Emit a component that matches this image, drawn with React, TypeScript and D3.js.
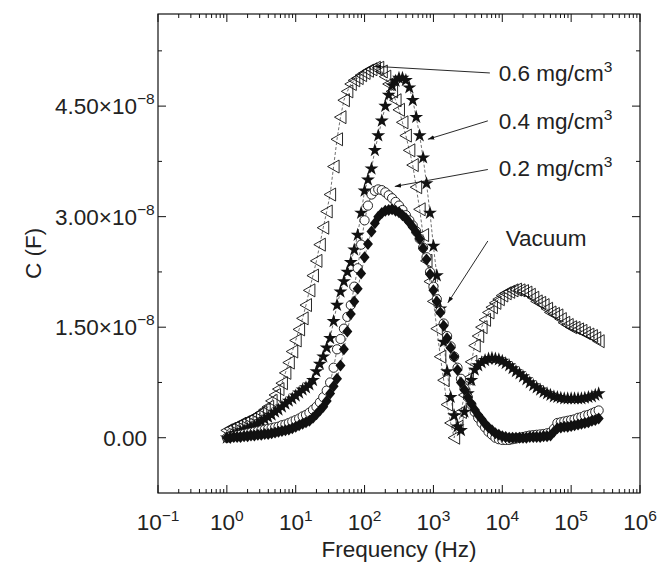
import React from "react";
import * as d3 from "d3";

// sweep frequencies (Hz), shared by all four runs
const FREQ = [
  1, 1.12, 1.26, 1.41, 1.58, 1.78, 2.0, 2.24, 2.51, 2.82, 3.16, 3.55, 3.98, 4.47, 5.01, 5.62, 6.31, 7.08, 7.94, 8.91,
  10, 11.2, 12.6, 14.1, 15.8, 17.8, 20, 22.4, 25.1, 28.2, 31.6, 35.5, 39.8, 44.7, 50.1, 56.2, 63.1, 70.8, 79.4, 89.1,
  100, 112, 126, 141, 158, 178, 200, 224, 251, 282, 316, 355, 398, 447, 501, 562, 631, 708, 794, 891,
  1000, 1120, 1260, 1410, 1580, 1780, 2000, 2240, 2510, 2820, 3160, 3550, 3980, 4470, 5010, 5620, 6310, 7080, 7940, 8910,
  10000, 11200, 12600, 14100, 15800, 17800, 20000, 22400, 25100, 28200, 31600, 35500, 39800, 44700, 50100, 56200, 63100, 70800, 79400, 89100,
  100000, 112000, 126000, 141000, 158000, 178000, 200000, 224000, 251000,
];

// capacitance, in units of 1e-8 F
const C_06 = [
  0.1, 0.12, 0.14, 0.16, 0.19, 0.21, 0.23, 0.25, 0.28, 0.31,
  0.34, 0.38, 0.42, 0.5, 0.58, 0.66, 0.74, 0.88, 1.02, 1.17,
  1.32, 1.47, 1.62, 1.8, 2.0, 2.2, 2.4, 2.62, 2.85, 3.07,
  3.3, 3.68, 4.05, 4.35, 4.58, 4.7, 4.8, 4.85, 4.88, 4.92,
  4.95, 4.98, 5.0, 5.02, 5.02, 4.97, 4.9, 4.8, 4.7, 4.58,
  4.45, 4.28, 4.1, 3.9, 3.7, 3.4, 3.1, 2.75, 2.4, 2.12,
  1.85, 1.48, 1.1, 0.78, 0.45, 0.2, 0.0, 0.15, 0.35, 0.58,
  0.8, 1.03, 1.25, 1.38, 1.5, 1.6, 1.7, 1.77, 1.83, 1.88,
  1.93, 1.96, 1.98, 2.0, 2.01, 2.0, 1.99, 1.97, 1.94, 1.9,
  1.85, 1.83, 1.8, 1.75, 1.7, 1.68, 1.66, 1.61, 1.56, 1.53,
  1.5, 1.49, 1.47, 1.45, 1.42, 1.4, 1.38, 1.35, 1.31,
];
const C_04 = [
  0.0, 0.02, 0.04, 0.06, 0.08, 0.1, 0.12, 0.14, 0.16, 0.19,
  0.22, 0.25, 0.28, 0.31, 0.35, 0.38, 0.42, 0.46, 0.5, 0.53,
  0.57, 0.61, 0.65, 0.68, 0.72, 0.78, 0.9, 1.0, 1.1, 1.22,
  1.35, 1.58, 1.8, 1.98, 2.12, 2.25, 2.38, 2.55, 2.75, 3.05,
  3.35, 3.5, 3.65, 3.9, 4.1, 4.3, 4.5, 4.65, 4.78, 4.84,
  4.88, 4.88, 4.85, 4.75, 4.58, 4.35, 4.1, 3.8, 3.45, 3.05,
  2.6, 2.2, 1.75, 1.3, 0.9, 0.55, 0.3, 0.15, 0.1, 0.35,
  0.6, 0.78, 0.92, 0.98, 1.02, 1.05, 1.07, 1.08, 1.07, 1.06,
  1.04, 1.01, 0.98, 0.94, 0.9, 0.87, 0.83, 0.79, 0.75, 0.71,
  0.68, 0.65, 0.62, 0.6, 0.58, 0.56, 0.55, 0.54, 0.53, 0.53,
  0.53, 0.53, 0.53, 0.53, 0.54, 0.55, 0.56, 0.58, 0.6,
];
const C_02 = [
  0.0, 0.01, 0.02, 0.03, 0.04, 0.05, 0.06, 0.07, 0.08, 0.09,
  0.1, 0.11, 0.12, 0.13, 0.14, 0.15, 0.17, 0.18, 0.2, 0.22,
  0.24, 0.26, 0.29, 0.31, 0.34, 0.38, 0.42, 0.48, 0.55, 0.64,
  0.75, 0.95, 1.2, 1.34, 1.48, 1.64, 1.8, 2.05, 2.3, 2.62,
  2.95, 3.15, 3.3, 3.35, 3.37, 3.36, 3.33, 3.29, 3.25, 3.2,
  3.15, 3.09, 3.02, 2.95, 2.88, 2.8, 2.7, 2.58, 2.45, 2.25,
  2.05, 1.88, 1.72, 1.55, 1.38, 1.24, 1.1, 0.95, 0.8, 0.67,
  0.55, 0.45, 0.35, 0.27, 0.2, 0.14, 0.08, 0.04, 0.0, -0.02,
  -0.03, -0.03, -0.03, -0.02, -0.01, 0.0, 0.01, 0.02, 0.03, 0.035,
  0.04, 0.045, 0.05, 0.06, 0.07, 0.12, 0.2, 0.21, 0.22, 0.23,
  0.24, 0.25, 0.27, 0.28, 0.3, 0.31, 0.33, 0.35, 0.37,
];
const C_VAC = [
  0.0, 0.0, 0.01, 0.01, 0.01, 0.02, 0.02, 0.03, 0.03, 0.04,
  0.04, 0.05, 0.05, 0.06, 0.07, 0.08, 0.09, 0.1, 0.11, 0.13,
  0.15, 0.17, 0.19, 0.21, 0.23, 0.27, 0.32, 0.37, 0.42, 0.5,
  0.6, 0.7, 0.8, 0.98, 1.2, 1.44, 1.68, 1.85, 2.02, 2.23,
  2.45, 2.63, 2.8, 2.91, 3.0, 3.05, 3.08, 3.09, 3.1, 3.08,
  3.06, 3.02, 2.98, 2.92, 2.86, 2.79, 2.7, 2.57, 2.42, 2.22,
  2.0, 1.85, 1.7, 1.52, 1.35, 1.22, 1.1, 0.92, 0.75, 0.65,
  0.55, 0.46, 0.38, 0.31, 0.25, 0.19, 0.14, 0.1, 0.06, 0.04,
  0.02, 0.01, 0.0, 0.0, 0.0, 0.0, 0.0, 0.0, 0.01, 0.01,
  0.01, 0.01, 0.02, 0.02, 0.03, 0.08, 0.13, 0.14, 0.15, 0.15,
  0.16, 0.17, 0.18, 0.19, 0.2, 0.21, 0.23, 0.24, 0.26,
];

const X_EXP = [-1, 0, 1, 2, 3, 4, 5, 6];
const Y_MAJOR = [0, 1.5, 3, 4.5];
const Y_LABELS = ["0.00", "1.50", "3.00", "4.50"];
const Y_MINOR = [0.75, 2.25, 3.75, 5.25];

// callouts: arrow tip, arrow tail, text anchor (freq, C)
const NOTES = [
  { label: "0.6 mg/cm", sup: "3", tip: [141, 5.04], tail: [6600, 4.95], text: [8900, 4.84] },
  { label: "0.4 mg/cm", sup: "3", tip: [831, 4.05], tail: [6170, 4.3], text: [8900, 4.19] },
  { label: "0.2 mg/cm", sup: "3", tip: [275, 3.41], tail: [6170, 3.64], text: [8900, 3.55] },
  { label: "Vacuum", sup: "", tip: [1620, 1.83], tail: [6170, 2.67], text: [11200, 2.6] },
];

const W = 667;
const H = 574;
const M = { left: 158, right: 27, top: 14, bottom: 81 };
const FONT = "'Liberation Sans', Arial, Helvetica, sans-serif";
const FS = 22.5;
const SUP = 15.5;

const triLeft = "M-6,0L5.5,-6.5L5.5,6.5Z";
const diamond = "M0,-6L5,0L0,6L-5,0Z";
const star = d3.symbol(d3.symbolStar, 60)();

export default function App() {
  const x = d3.scaleLog().domain([0.1, 1e6]).range([M.left, W - M.right]);
  const y = d3.scaleLinear().domain([-0.75, 5.75]).range([H - M.bottom, M.top]);

  const series = [
    { vals: C_06, shape: "tri" },
    { vals: C_04, shape: "star" },
    { vals: C_02, shape: "circle" },
    { vals: C_VAC, shape: "diamond" },
  ];
  const line = (vals: number[]) =>
    d3.line<number>().x((_, i) => x(FREQ[i])).y((v) => y(v))(vals) || "";

  const minor: number[] = [];
  for (let e = -1; e < 6; e++) for (let k = 2; k <= 9; k++) minor.push(k * Math.pow(10, e));

  const x0 = M.left, x1 = W - M.right, y0 = M.top, y1 = H - M.bottom;

  const marker = (shape: string, px: number, py: number, key: number) => {
    const t = `translate(${px},${py})`;
    if (shape === "tri") return <path key={key} d={triLeft} transform={t} fill="none" stroke="#111" strokeWidth={0.9} />;
    if (shape === "star") return <path key={key} d={star} transform={t} fill="#111" />;
    if (shape === "circle") return <circle key={key} cx={px} cy={py} r={4.6} fill="#fff" stroke="#111" strokeWidth={0.9} />;
    return <path key={key} d={diamond} transform={t} fill="#111" />;
  };

  return (
    <svg width={W} height={H} style={{ position: "absolute", left: 0, top: 0, background: "#fff" }} fontFamily={FONT}>
      <defs>
        <marker id="ah" viewBox="0 0 10 10" refX="10" refY="5" markerWidth="7" markerHeight="7" orient="auto">
          <path d="M0,1.5L10,5L0,8.5Z" fill="#111" />
        </marker>
      </defs>

      {/* series */}
      {series.map((s, si) => (
        <g key={si}>
          <path d={line(s.vals)} fill="none" stroke="#333" strokeWidth={0.7} strokeDasharray="3,2" />
          {s.vals.map((v, i) => marker(s.shape, x(FREQ[i]), y(v), i))}
        </g>
      ))}

      {/* frame */}
      <rect x={x0} y={y0} width={x1 - x0} height={y1 - y0} fill="none" stroke="#111" strokeWidth={1.2} />

      {/* x ticks */}
      {X_EXP.map((e) => {
        const px = x(Math.pow(10, e));
        return (
          <g key={"xm" + e}>
            <line x1={px} x2={px} y1={y1} y2={y1 - 8} stroke="#111" />
            <line x1={px} x2={px} y1={y0} y2={y0 + 8} stroke="#111" />
            <text x={px} y={y1 + 37} textAnchor="middle" fontSize={FS} fill="#222">
              10<tspan dy={-9} fontSize={SUP}>{e < 0 ? "\u2212" + Math.abs(e) : e}</tspan>
            </text>
          </g>
        );
      })}
      {minor.map((f, i) => {
        const px = x(f);
        return (
          <g key={"xn" + i}>
            <line x1={px} x2={px} y1={y1} y2={y1 - 4} stroke="#111" />
            <line x1={px} x2={px} y1={y0} y2={y0 + 4} stroke="#111" />
          </g>
        );
      })}

      {/* y ticks */}
      {Y_MAJOR.map((v, i) => {
        const py = y(v);
        return (
          <g key={"ym" + i}>
            <line x1={x0} x2={x0 + 8} y1={py} y2={py} stroke="#111" />
            <line x1={x1} x2={x1 - 8} y1={py} y2={py} stroke="#111" />
            <text x={v === 0 ? 147 : 137} y={py + 8} textAnchor="end" fontSize={FS} fill="#222">
              {Y_LABELS[i]}
              {v !== 0 ? "\u00d710" : ""}
            </text>
            {v !== 0 && (
              <text x={137} y={py - 2} fontSize={SUP} fill="#222">
                {"\u22128"}
              </text>
            )}
          </g>
        );
      })}
      {Y_MINOR.map((v, i) => {
        const py = y(v);
        return (
          <g key={"yn" + i}>
            <line x1={x0} x2={x0 + 4} y1={py} y2={py} stroke="#111" />
            <line x1={x1} x2={x1 - 4} y1={py} y2={py} stroke="#111" />
          </g>
        );
      })}

      {/* axis titles */}
      <text x={(x0 + x1) / 2} y={H - 17} textAnchor="middle" fontSize={FS} fill="#222">
        Frequency (Hz)
      </text>
      <text transform={`translate(41,${(y0 + y1) / 2}) rotate(-90)`} textAnchor="middle" fontSize={FS} fill="#222">
        C (F)
      </text>

      {/* callouts */}
      {NOTES.map((n, i) => (
        <g key={"n" + i}>
          <line
            x1={x(n.tail[0])}
            y1={y(n.tail[1])}
            x2={x(n.tip[0])}
            y2={y(n.tip[1])}
            stroke="#111"
            strokeWidth={0.9}
            markerEnd="url(#ah)"
          />
          <text x={x(n.text[0])} y={y(n.text[1])} fontSize={FS} fill="#222">
            {n.label}
            {n.sup && <tspan dy={-9} fontSize={SUP}>{n.sup}</tspan>}
          </text>
        </g>
      ))}
    </svg>
  );
}
